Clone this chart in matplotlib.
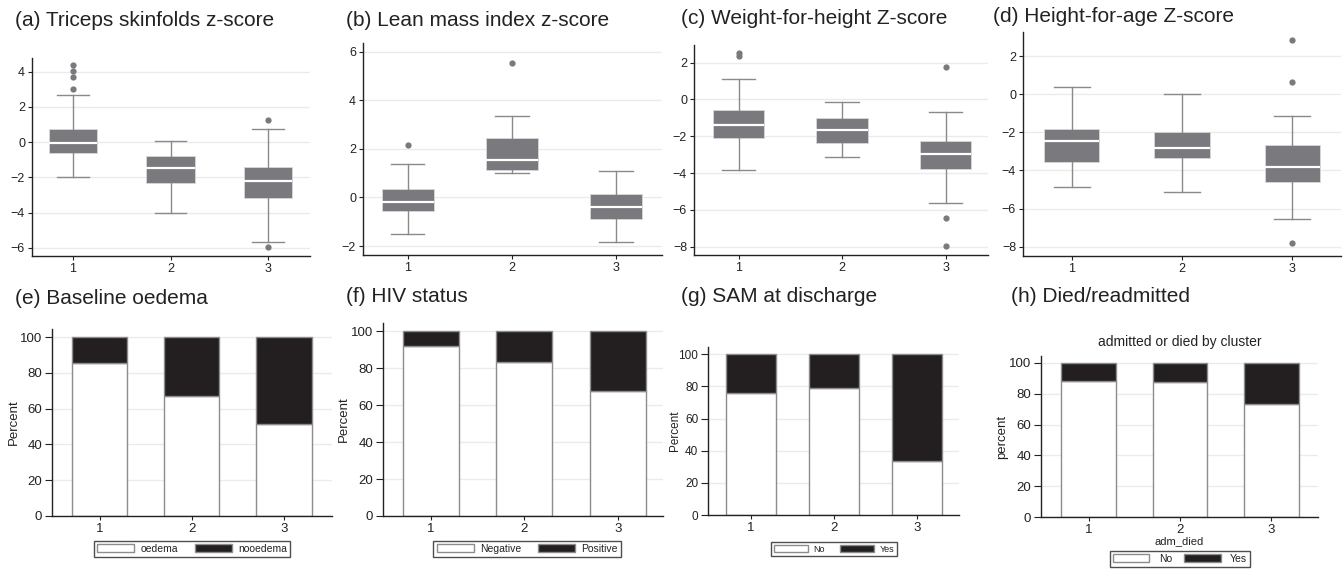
import matplotlib
matplotlib.use("Agg")
import matplotlib.pyplot as plt
from matplotlib.patches import Patch

plt.rcParams['font.family'] = ['Liberation Sans', 'DejaVu Sans']

W, H = 1344, 569

# ---- data ----
cluster = [1, 2, 3]

# box plot stats per cluster: [whisker low, q1, median, q3, whisker high]
tsf_box = [[-1.97, -0.64, -0.03, 0.74, 2.68],
           [-4.01, -2.34, -1.45, -0.77, 0.05],
           [-5.66, -3.16, -2.19, -1.40, 0.76]]
tsf_out = [[4.36, 4.06, 3.68, 3.0], [], [1.26, -5.96]]

lmi_box = [[-1.50, -0.57, -0.20, 0.34, 1.38],
           [1.01, 1.14, 1.54, 2.44, 3.35],
           [-1.82, -0.88, -0.39, 0.14, 1.09]]
lmi_out = [[2.16], [5.55], []]

whz_box = [[-3.83, -2.11, -1.39, -0.57, 1.11],
           [-3.14, -2.38, -1.66, -1.02, -0.12],
           [-5.61, -3.78, -2.95, -2.27, -0.66]]
whz_out = [[2.51, 2.36], [], [1.78, -6.46, -7.97]]

haz_box = [[-4.89, -3.54, -2.46, -1.84, 0.36],
           [-5.15, -3.37, -2.81, -2.00, 0.04],
           [-6.55, -4.59, -3.80, -2.68, -1.15]]
haz_out = [[], [], [2.84, 0.65, -7.82]]

# stacked percent bars (lower white part)
oedema_pct = [85.5, 66.8, 51.5]
hiv_neg_pct = [91.9, 83.6, 67.8]
sam_no_pct = [75.6, 79.3, 33.7]
adm_no_pct = [88.0, 87.4, 73.5]

BOX = '#7a7a7e'
WHISK = '#8a8a8a'
GRID = '#ebebeb'


def rect(l, t, r, b):
    return [l / W, 1 - b / H, (r - l) / W, (b - t) / H]


def fig_xy(x, y):
    return x / W, 1 - y / H


fig = plt.figure(figsize=(W / 100, H / 100), dpi=100)


def style(ax, size, tick_len=3):
    for s in ['top', 'right']:
        ax.spines[s].set_visible(False)
    for s in ['left', 'bottom']:
        ax.spines[s].set_color('#222222')
        ax.spines[s].set_linewidth(1.0)
    ax.set_axisbelow(True)
    ax.yaxis.grid(True, color=GRID, lw=1)
    ax.tick_params(length=tick_len, width=0.8, labelsize=size, pad=2, color='#222222',
                   labelcolor='#222222')


def boxpanel(r, stats, outs, ylim, yticks, xlim, title, tpos):
    ax = fig.add_axes(rect(*r))
    style(ax, 9)
    st = []
    for s, o in zip(stats, outs):
        st.append(dict(whislo=s[0], q1=s[1], med=s[2], q3=s[3], whishi=s[4], fliers=o))
    ax.bxp(st, positions=cluster, widths=0.5, capwidths=0.32, patch_artist=True,
           manage_ticks=False,
           boxprops=dict(facecolor=BOX, edgecolor='#d8d8da', lw=0.6),
           medianprops=dict(color='white', lw=1.6),
           whiskerprops=dict(color=WHISK, lw=1),
           capprops=dict(color=WHISK, lw=1),
           flierprops=dict(marker='o', markerfacecolor=BOX, markeredgecolor='none', markersize=4.5))
    ax.set_xticks(cluster)
    ax.set_yticks(yticks)
    ax.set_xlim(*xlim)
    ax.set_ylim(*ylim)
    fig.text(*fig_xy(*tpos), title, fontsize=15, ha='left', va='center', color='#222222')
    return ax


def barpanel(r, low, labels, xlim, title, tpos, ylab, ylab_x, leg_xy, ytick_size=9.5,
             leg_size=7.5, hl=3.55, tp=0.6, cs=1.6):
    ax = fig.add_axes(rect(*r))
    style(ax, 9.5)
    ax.tick_params(axis='y', length=5)
    top = [100 - v for v in low]
    ax.bar(cluster, low, width=0.6, color='white', edgecolor='#8c8c8c', lw=1)
    ax.bar(cluster, top, bottom=low, width=0.6, color='#231f20', edgecolor='#8c8c8c', lw=1)
    ax.set_xticks(cluster)
    ax.set_yticks([0, 20, 40, 60, 80, 100])
    ax.tick_params(axis='y', labelsize=ytick_size)
    ax.set_xlim(*xlim)
    ax.set_ylim(0, 104.5)
    ax.set_ylabel(ylab, fontsize=ytick_size, color='#222222')
    ax.yaxis.set_label_coords(ylab_x, 0.5)
    fig.text(*fig_xy(*tpos), title, fontsize=15, ha='left', va='center', color='#222222')
    handles = [Patch(facecolor='white', edgecolor='#8c8c8c', lw=1),
               Patch(facecolor='#231f20', edgecolor='#8c8c8c', lw=1)]
    leg = ax.legend(handles, labels, loc='center', bbox_to_anchor=fig_xy(*leg_xy),
                    bbox_transform=fig.transFigure, ncol=2, fontsize=leg_size,
                    frameon=True, fancybox=False, edgecolor='#222222',
                    handlelength=hl, handleheight=0.8, handletextpad=tp,
                    columnspacing=cs, borderpad=0.3, borderaxespad=0)
    leg.get_frame().set_linewidth(1.0)
    for t in leg.get_texts():
        t.set_color('#222222')
    return ax


boxpanel((32, 58, 310, 256), tsf_box, tsf_out, (-6.47, 4.78), [-6, -4, -2, 0, 2, 4],
         (0.58, 3.43), '(a) Triceps skinfolds z-score', (15, 20))
boxpanel((363, 43, 662, 255), lmi_box, lmi_out, (-2.37, 6.36), [-2, 0, 2, 4, 6],
         (0.57, 3.44), '(b) Lean mass index z-score', (346, 20))
boxpanel((694, 45, 988, 255), whz_box, whz_out, (-8.45, 2.96), [-8, -6, -4, -2, 0, 2],
         (0.57, 3.41), '(c) Weight-for-height Z-score', (681, 19))
boxpanel((1023, 32, 1341, 256), haz_box, haz_out, (-8.49, 3.27), [-8, -6, -4, -2, 0, 2],
         (0.555, 3.445), '(d) Height-for-age Z-score', (993, 17))

barpanel((52, 329, 332, 516), oedema_pct, ['oedema', 'nooedema'], (0.485, 3.52),
         '(e) Baseline oedema', (15, 298), 'Percent', -0.114, (192, 549))
barpanel((383, 323, 663, 516), hiv_neg_pct, ['Negative', 'Positive'], (0.49, 3.48),
         '(f) HIV status', (346, 297), 'Percent', -0.119, (527, 549))
barpanel((708, 347, 959, 515), sam_no_pct, ['No', 'Yes'], (0.485, 3.51),
         '(g) SAM at discharge', (681, 297), 'Percent', -0.107, (834, 549),
         ytick_size=8.5, leg_size=6.5, hl=3.8, tp=0.6, cs=1.6)
axh = barpanel((1041, 356, 1318, 517), adm_no_pct, ['No', 'Yes'], (0.48, 3.51),
               '(h) Died/readmitted', (1011, 297), 'percent', -0.117, (1180, 559),
               leg_size=7.5, hl=3.5, tp=0.9, cs=1.2)
axh.set_xlabel('adm_died', fontsize=8, labelpad=0, color='#222222')
fig.text(*fig_xy(1180, 342), 'admitted or died by cluster', fontsize=10,
         ha='center', va='center', color='#222222')

fig.savefig('out.png', dpi=100)
